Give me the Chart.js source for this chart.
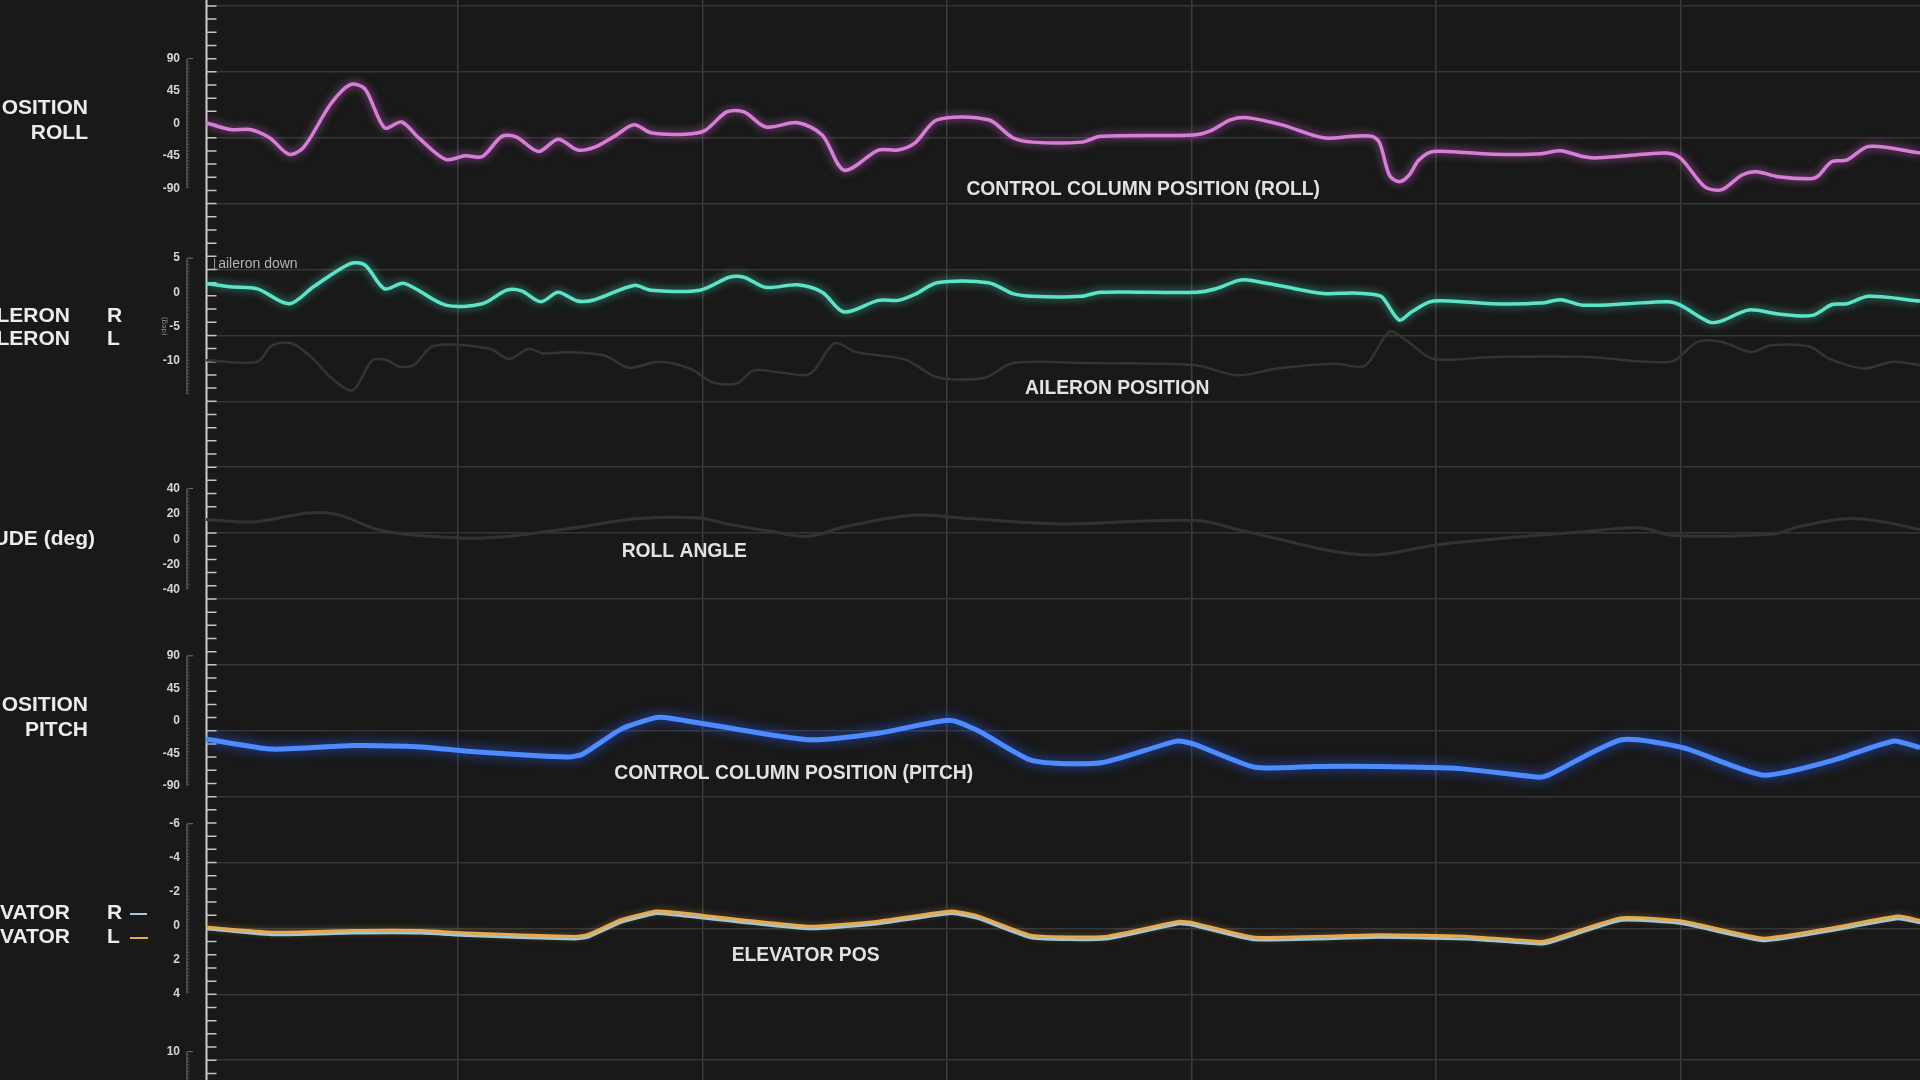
<!DOCTYPE html>
<html lang="en">

<head>
    <meta charset="UTF-8">
    <title>Flight controls</title>
    <script src="https://cdn.jsdelivr.net/npm/chart.js"></script>
    <style>
        html, body { margin: 0; padding: 0; background: #1a1a1a; overflow: hidden; }
        canvas { display: block; }
    </style>
</head>

<body>
    <canvas id="graficoVoo" width="1920" height="1080"></canvas>
</body>

</html>
<script>
    // time axis (s) and values
    const rollT = [-0.3, 0.7, 1.5, 2.3, 3.1, 3.7, 4.8, 5.6, 6.2, 7.0, 7.7, 8.4, 9.5, 10.3, 11.0, 11.8, 12.4, 13.3, 14.1, 14.9, 15.6, 16.4, 17.2, 17.9, 19.3, 20.1, 21.0, 21.7, 22.6, 23.9, 24.9, 25.8, 27.2, 28.0, 28.7, 29.6, 31.7, 32.7, 33.5, 35.5, 36.3, 40.1, 40.8, 41.6, 42.3, 43.7, 45.4, 46.6, 47.4, 47.7, 48.1, 48.5, 48.9, 49.3, 49.9, 52.3, 54.3, 55.1, 56.0, 56.5, 57.8, 59.4, 60.0, 61.0, 61.7, 62.5, 63.1, 64.0, 65.3, 65.6, 66.2, 66.8, 67.7, 69.8]
    const rollV = [1, -8.5, -8.5, -20, -43, -33, 27, 54, 48, -6, 2, -20, -50, -45, -46, -18, -19, -39, -22, -37, -33, -18, -2, -13, -15, -10, 16, 16, -5, 1, -16, -65, -37, -37, -27, 5, 5, -20, -26, -26, -18, -16, -10, 5, 8, -2, -20, -18, -18, -27, -72, -81, -72, -51, -39, -43, -42, -38, -46, -48, -45, -41, -48, -88, -92, -72, -67, -74, -77, -74, -53, -51, -32, -41]

    const ailT = [-0.3, 0.7, 1.8, 3.1, 4.1, 5.6, 6.2, 7.0, 7.8, 9.5, 11.0, 12.0, 12.6, 13.4, 14.1, 14.9, 15.6, 17.2, 17.9, 19.9, 21.1, 21.7, 22.6, 23.9, 24.9, 25.8, 27.2, 28.0, 28.7, 29.6, 31.7, 32.7, 33.5, 35.5, 36.3, 40.2, 41.0, 41.9, 42.3, 43.7, 45.4, 46.6, 47.4, 47.8, 48.5, 49.0, 49.9, 52.3, 54.3, 55.1, 56.0, 57.8, 59.5, 60.0, 61.2, 61.7, 62.8, 64.0, 65.4, 66.2, 66.8, 67.7, 69.8]
    const ailR = [1.3, 0.8, 0.5, -1.7, 0.8, 4.2, 4.0, 0.5, 1.3, -1.9, -1.7, 0.3, 0.2, -1.4, 0, -1.3, -1.1, 1.0, 0.3, 0.3, 2.2, 2.2, 0.7, 1.1, 0, -2.9, -1.2, -1.2, -0.3, 1.4, 1.4, -0.2, -0.6, -0.6, 0, 0, 0.5, 1.7, 1.8, 0.9, -0.2, -0.1, -0.3, -0.7, -4.1, -2.9, -1.3, -1.7, -1.6, -1.1, -1.9, -1.7, -1.4, -1.9, -4.4, -4.2, -2.6, -3.2, -3.4, -1.8, -1.7, -0.6, -1.3]

    const ailLT = [-0.3, 1.8, 2.4, 3.2, 4.0, 4.8, 5.7, 6.5, 7.1, 7.6, 8.2, 9.0, 11.3, 12.1, 12.9, 13.5, 14.6, 16.0, 17.0, 18.2, 19.5, 20.4, 21.4, 22.1, 23.2, 24.4, 25.4, 26.3, 28.3, 29.4, 30.2, 31.6, 32.7, 35.7, 40.1, 41.9, 43.5, 45.9, 47.1, 48.1, 48.8, 49.9, 52.3, 56.2, 59.6, 60.7, 61.7, 62.9, 63.7, 65.3, 66.1, 67.5, 68.7, 69.8]
    const ailL = [-10, -10.2, -7.8, -7.5, -9.5, -12.5, -14.4, -10, -10, -10.9, -10.7, -7.9, -8.3, -9.8, -8.3, -9.0, -8.8, -9.3, -11.1, -10.2, -11.2, -13.2, -13.4, -11.5, -11.8, -12, -7.5, -8.8, -9.9, -12.2, -12.8, -12.5, -10.4, -10.4, -10.7, -12.2, -11.2, -10.5, -10.8, -5.8, -7.1, -9.8, -9.5, -9.5, -10.2, -7.3, -7.3, -8.8, -7.8, -8.0, -9.8, -11.2, -10.2, -10.7]

    const angT = [-0.3, 1.7, 3.9, 5.1, 6.9, 10.0, 12.0, 14.7, 17.4, 19.9, 21.0, 22.8, 24.3, 25.9, 28.6, 30.9, 34.6, 40.2, 42.2, 47.0, 50.3, 55.9, 58.4, 59.7, 63.8, 64.9, 66.9, 68.3, 69.8]
    const angV = [15.5, 13.7, 20.8, 19.4, 6.7, 1, 2.2, 8.9, 16.3, 16.8, 12.1, 6.2, 2.2, 10.2, 18.9, 16.3, 12.1, 14.7, 6.2, -12.3, -3.8, 5.7, 8.9, 3, 4.1, 10.2, 16.3, 13.7, 7.5]

    const pitchT = [-0.3, 2.4, 5.7, 8.5, 10.4, 14.5, 15.1, 16.7, 18.1, 18.7, 24.3, 27.2, 30.1, 31.3, 33.5, 36.3, 39.4, 40.1, 42.6, 45.1, 47.7, 51.0, 54.2, 54.6, 57.6, 60.1, 63.4, 66.2, 68.7, 69.8]
    const pitchV = [-25, -39, -34, -36, -42, -50, -46, -11, 4.5, 3.7, -26, -17, 1, -14, -55, -58, -28, -32, -64, -63, -63, -66, -78, -75, -26, -37, -75, -55, -28, -37]

    const elevT = [-0.3, 2.4, 5.7, 8.5, 10.4, 14.8, 15.3, 16.7, 18.1, 18.7, 24.4, 27.2, 30.2, 31.3, 33.5, 36.5, 39.5, 40.1, 42.6, 47.7, 51.3, 54.3, 54.8, 57.6, 60.1, 63.4, 66.2, 68.9, 69.8]
    const elevL = [0.1, 0.4, 0.3, 0.3, 0.45, 0.65, 0.55, -0.35, -0.85, -0.8, 0.05, -0.25, -0.85, -0.55, 0.6, 0.65, -0.25, -0.15, 0.7, 0.55, 0.65, 0.95, 0.8, -0.45, -0.25, 0.75, 0.15, -0.55, -0.3]
    const elevR = [0.2, 0.55, 0.45, 0.45, 0.6, 0.8, 0.7, -0.2, -0.7, -0.65, 0.2, -0.1, -0.7, -0.4, 0.75, 0.8, -0.1, 0, 0.85, 0.7, 0.8, 1.1, 0.95, -0.3, -0.1, 0.9, 0.3, -0.4, -0.15]

    // tick labels
    const rollTicks = [90, 45, 0, -45, -90]
    const ailTicks = [5, 0, -5, -10]
    const angTicks = [40, 20, 0, -20, -40]
    const pitchTicks = [90, 45, 0, -45, -90]
    const elevTicks = [-6, -4, -2, 0, 2, 4]
    const nextTicks = [10]
    const timeGrid = [10, 20, 30, 40, 50, 60]
    const rowGrid = [0, 1, 2, 3, 4, 5, 6, 7, 8, 9, 10, 11, 12, 13, 14, 15, 16]

    const fonte = 'Liberation Sans, Arial, sans-serif'
    Chart.defaults.font.family = fonte

    // each panel is a band of the left stacked axis
    const paineis = [
        { id: 'yRoll', ticks: rollTicks, min: -141.1, max: 171.4, band: 225, ordem: 6, regua: [90, -90] },
        { id: 'yAil', ticks: ailTicks, min: -19.5, max: 9.87, band: 200, ordem: 5, regua: [5, -15] },
        { id: 'yAng', ticks: angTicks, min: -63.9, max: 90.3, band: 195, ordem: 4, regua: [40, -40] },
        { id: 'yPitch', ticks: pitchTicks, min: -109.4, max: 139.6, band: 180, ordem: 3, regua: [90, -90] },
        { id: 'yElev', ticks: elevTicks, min: -7.4, max: 6.17, band: 230, ordem: 2, regua: [-6, 4], reverse: true },
        { id: 'yNext', ticks: nextTicks, min: 2.9, max: 15.4, band: 50, ordem: 1, regua: [10, 2.9] }
    ]

    const escalas = {
        x: {
            type: 'linear', min: -0.3, max: 69.8,
            ticks: { display: false },
            grid: { color: '#3b3b3b', lineWidth: 1.5, drawTicks: false },
            border: { display: false },
            afterBuildTicks: s => { s.ticks = timeGrid.map(v => ({ value: v })) },
            afterFit: s => { s.height = 0 }
        },
        g: {
            type: 'linear', position: 'right', min: -0.3, max: 16.09,
            ticks: { display: false },
            grid: { color: '#363636', lineWidth: 1.5, drawTicks: false },
            border: { display: false },
            afterBuildTicks: s => { s.ticks = rowGrid.map(v => ({ value: v })) },
            afterFit: s => { s.width = 0 }
        }
    }

    paineis.forEach(p => {
        escalas[p.id] = {
            type: 'linear', position: 'left', stack: 'paineis', stackWeight: p.band, weight: p.ordem,
            min: p.min, max: p.max, reverse: !!p.reverse,
            grid: { display: false, drawTicks: false },
            border: { display: false },
            ticks: { color: '#d4d4d4', padding: 26, font: { size: 12, weight: 'bold' } },
            afterBuildTicks: s => { s.ticks = p.ticks.map(v => ({ value: v })) },
            afterFit: s => { s.width = 206; s.paddingTop = 0; s.paddingBottom = 0 }
        }
    })

    function serie(ts, vs) {
        return ts.map((t, i) => ({ x: t, y: vs[i] }))
    }

    const rotulosLaterais = [
        { text: 'OSITION', x: 88, y: 108, align: 'right' },
        { text: 'ROLL', x: 88, y: 133, align: 'right' },
        { text: 'LERON', x: 70, y: 316, align: 'right' },
        { text: 'R', x: 107, y: 316, align: 'left' },
        { text: 'LERON', x: 70, y: 339, align: 'right' },
        { text: 'L', x: 107, y: 339, align: 'left' },
        { text: 'UDE (deg)', x: 95, y: 539, align: 'right' },
        { text: 'OSITION', x: 88, y: 705, align: 'right' },
        { text: 'PITCH', x: 88, y: 730, align: 'right' },
        { text: 'VATOR', x: 70, y: 913, align: 'right' },
        { text: 'R', x: 107, y: 913, align: 'left' },
        { text: 'VATOR', x: 70, y: 937, align: 'right' },
        { text: 'L', x: 107, y: 937, align: 'left' }
    ]

    const notas = [
        { text: 'CONTROL COLUMN POSITION (ROLL)', t: 30.8, eixo: 'yRoll', v: -92.5 },
        { text: 'AILERON POSITION', t: 33.2, eixo: 'yAil', v: -14.1 },
        { text: 'ROLL ANGLE', t: 16.7, eixo: 'yAng', v: -9.9 },
        { text: 'CONTROL COLUMN POSITION (PITCH)', t: 16.4, eixo: 'yPitch', v: -72.5 },
        { text: 'ELEVATOR POS', t: 21.2, eixo: 'yElev', v: 1.79 }
    ]

    // frame: main vertical axis with minor ticks and the small rulers beside each panel
    const moldura = {
        id: 'moldura',
        beforeDraw(chart) {
            const ctx = chart.ctx
            ctx.save()
            ctx.fillStyle = '#191919'
            ctx.fillRect(0, 0, chart.width, chart.height)
            ctx.restore()
        },
        beforeDatasetsDraw(chart) {
            const { ctx, chartArea, scales } = chart
            const x0 = chartArea.left + 0.5
            ctx.save()
            ctx.strokeStyle = '#cfcfcf'
            ctx.lineWidth = 2
            ctx.beginPath()
            ctx.moveTo(x0, 0)
            ctx.lineTo(x0, chart.height)
            ctx.stroke()

            ctx.lineWidth = 1.5
            ctx.strokeStyle = '#c4c4c4'
            ctx.beginPath()
            for (let k = -1; k <= 81; k++) {
                const y = scales.g.getPixelForValue(k * 0.2)
                ctx.moveTo(x0, y)
                ctx.lineTo(x0 + 10, y)
            }
            ctx.stroke()

            paineis.forEach(p => {
                const s = scales[p.id]
                const ya = s.getPixelForValue(p.regua[0])
                const yb = s.getPixelForValue(p.regua[1])
                const xr = chartArea.left - 19
                ctx.strokeStyle = '#777'
                ctx.lineWidth = 1
                ctx.beginPath()
                ctx.moveTo(xr, ya)
                ctx.lineTo(xr, yb)
                ctx.moveTo(xr, ya)
                ctx.lineTo(xr + 6, ya)
                ctx.stroke()
                ctx.strokeStyle = '#4e4e4e'
                ctx.beginPath()
                for (let y = Math.min(ya, yb); y <= Math.max(ya, yb); y += 3.3) {
                    ctx.moveTo(xr, y)
                    ctx.lineTo(xr + 2.5, y)
                }
                ctx.stroke()
            })

            // small corner mark before "aileron down"
            const xa = scales.x.getPixelForValue(0.05)
            const ya = scales.yAil.getPixelForValue(4.1)
            ctx.strokeStyle = '#9a9a9a'
            ctx.lineWidth = 1
            ctx.beginPath()
            ctx.moveTo(xa, ya - 6)
            ctx.lineTo(xa, ya + 5)
            ctx.lineTo(xa + 4, ya + 5)
            ctx.stroke()
            ctx.restore()
        },
        afterDraw(chart) {
            const { ctx, chartArea, scales } = chart
            ctx.save()
            ctx.textBaseline = 'middle'

            ctx.fillStyle = '#ececec'
            ctx.font = 'bold 21px ' + fonte
            rotulosLaterais.forEach(r => {
                ctx.textAlign = r.align
                ctx.fillText(r.text, r.x, r.y)
            })

            // little legend strokes after R / L of the elevator rows
            const dsR = chart.data.datasets.find(d => d.label == 'ELEVATOR R')
            const dsL = chart.data.datasets.find(d => d.label == 'ELEVATOR L')
            ctx.lineWidth = 2
            ctx.strokeStyle = dsR.borderColor
            ctx.beginPath(); ctx.moveTo(130, 914); ctx.lineTo(147, 914); ctx.stroke()
            ctx.strokeStyle = dsL.borderColor
            ctx.beginPath(); ctx.moveTo(130, 938); ctx.lineTo(148, 938); ctx.stroke()

            ctx.fillStyle = '#e2e2e2'
            ctx.font = 'bold 19.3px ' + fonte
            ctx.textAlign = 'left'
            notas.forEach(n => {
                ctx.fillText(n.text, scales.x.getPixelForValue(n.t), scales[n.eixo].getPixelForValue(n.v))
            })

            ctx.fillStyle = '#b4b4b4'
            ctx.font = '14px ' + fonte
            ctx.fillText('aileron down', scales.x.getPixelForValue(0.2), scales.yAil.getPixelForValue(4.1))

            ctx.fillStyle = '#8a8a8a'
            ctx.font = '8px ' + fonte
            ctx.translate(chartArea.left - 42, scales.yAil.getPixelForValue(-5))
            ctx.rotate(-Math.PI / 2)
            ctx.textAlign = 'center'
            ctx.fillText('(deg)', 0, 0)
            ctx.restore()
        }
    }

    // soft glow round the bright traces
    const brilho = {
        id: 'brilho',
        beforeDatasetDraw(chart, args) {
            const ds = chart.data.datasets[args.index]
            chart.ctx.save()
            if (ds.glow) {
                chart.ctx.shadowColor = ds.glow
                chart.ctx.shadowBlur = ds.glowBlur
            }
        },
        afterDatasetDraw(chart) {
            chart.ctx.restore()
        }
    }

    const graficoVoo = document.getElementById('graficoVoo')

    new Chart(graficoVoo, {
        type: 'line',
        data: {
            datasets: [
                {
                    label: 'CONTROL COLUMN ROLL', data: serie(rollT, rollV), yAxisID: 'yRoll',
                    borderColor: '#d87ed8', borderWidth: 3.5, tension: 0.3, order: 1,
                    glow: 'rgba(220, 110, 220, 0.75)', glowBlur: 9
                },
                {
                    label: 'AILERON R', data: serie(ailT, ailR), yAxisID: 'yAil',
                    borderColor: '#5de3c8', borderWidth: 3.5, tension: 0.3, order: 2,
                    glow: 'rgba(70, 230, 200, 0.7)', glowBlur: 9
                },
                {
                    label: 'AILERON L', data: serie(ailLT, ailL), yAxisID: 'yAil',
                    borderColor: '#343434', borderWidth: 2.5, tension: 0.3, order: 8
                },
                {
                    label: 'ROLL ANGLE', data: serie(angT, angV), yAxisID: 'yAng',
                    borderColor: '#38302d', borderWidth: 3, tension: 0.35, order: 9
                },
                {
                    label: 'CONTROL COLUMN PITCH', data: serie(pitchT, pitchV), yAxisID: 'yPitch',
                    borderColor: '#4d8bff', borderWidth: 5, tension: 0.2, order: 3,
                    glow: 'rgba(40, 100, 255, 0.85)', glowBlur: 12
                },
                {
                    label: 'ELEVATOR L', data: serie(elevT, elevL), yAxisID: 'yElev',
                    borderColor: '#e6aa50', borderWidth: 3, tension: 0.15, order: 4,
                    glow: 'rgba(230, 160, 60, 0.5)', glowBlur: 6
                },
                {
                    label: 'ELEVATOR R', data: serie(elevT, elevR), yAxisID: 'yElev',
                    borderColor: '#9ccbe8', borderWidth: 3, tension: 0.15, order: 5
                }
            ]
        },
        options: {
            responsive: false,
            animation: false,
            layout: { padding: 0 },
            elements: { point: { radius: 0 } },
            plugins: {
                legend: { display: false },
                tooltip: { enabled: false }
            },
            scales: escalas
        },
        plugins: [moldura, brilho]
    });
</script>
